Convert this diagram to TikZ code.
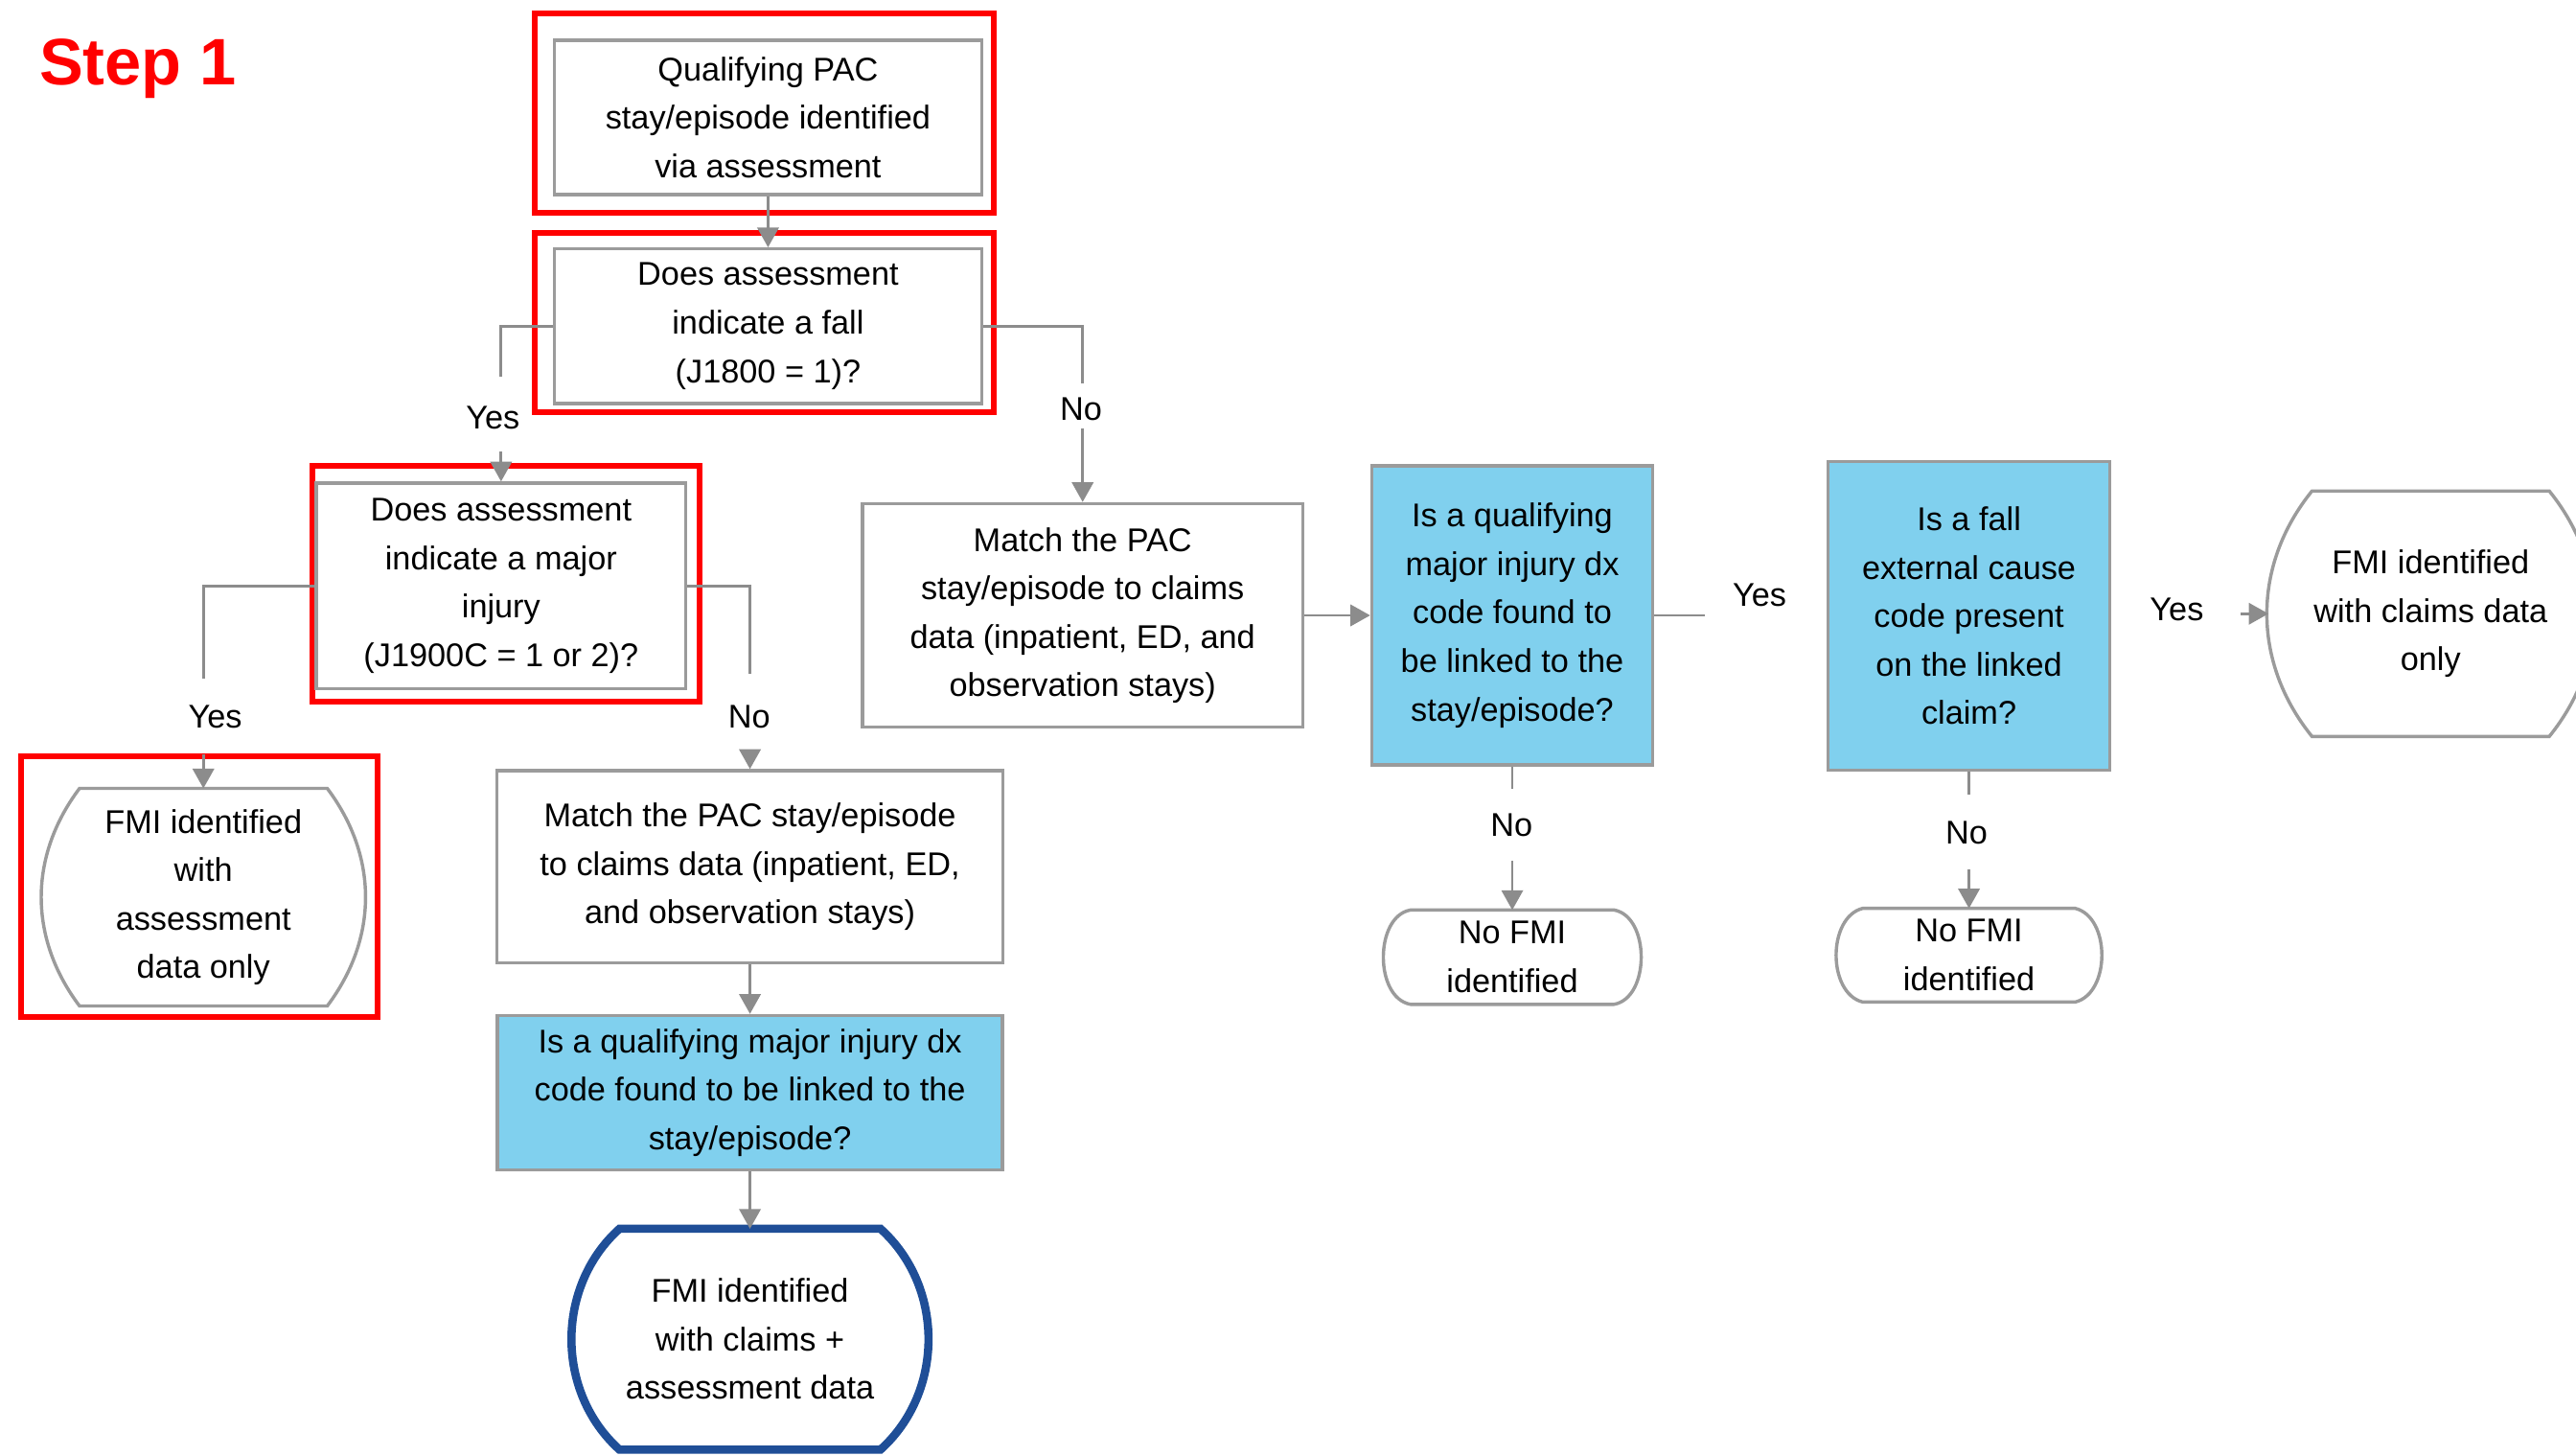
\documentclass[tikz,border=0pt]{standalone}
\usepackage{fontspec}
\setmainfont{Liberation Sans}
\usetikzlibrary{positioning,arrows.meta}
\definecolor{linegray}{RGB}{140,140,140}
\definecolor{boxgray}{RGB}{155,155,155}
\definecolor{dxblue}{RGB}{128,208,238}
\definecolor{endblue}{RGB}{31,78,151}
\definecolor{markred}{RGB}{255,0,0}
% outline of a terminal node: name, bulge of the sides, bend angle, draw options
\newcommand{\drawterm}[4]{\draw[#4] ([xshift=#2pt]#1.north west) to[bend right=#3] ([xshift=#2pt]#1.south west)
  -- ([xshift=-#2pt]#1.south east) to[bend right=#3] ([xshift=-#2pt]#1.north east) -- cycle;}

\begin{document}
\begin{tikzpicture}[x=1pt,y=-1pt,
  every node/.style={font=\fontsize{20}{29.5}\selectfont, inner sep=0pt, align=center},
  box/.style={draw=boxgray, line width=2pt, fill=white},
  dx/.style={box, fill=dxblue},
  termline/.style={draw=boxgray, line width=2pt},
  redframe/.style={draw=markred, line width=3.5pt},
  link/.style={draw=linegray, line width=1.6pt},
  >={Triangle[width=13pt,length=12pt]}]
 \path[use as bounding box, fill=white] (0,0) rectangle (1568,886);
 \clip (0,0) rectangle (1568,886);

 \node[text=markred, font=\bfseries\fontsize{40}{40}\selectfont] (step) at (84,42) {Step 1};

 \node[redframe, minimum width=279.5pt, minimum height=121pt] (pacR) at (465,68.8) {};
 \node[box, minimum width=260pt, minimum height=94pt] (pac) at (467.5,71.5) {Qualifying PAC\\stay/episode identified\\via assessment};
 \node[redframe, minimum width=279.5pt, minimum height=109pt] (fallR) at (465,196.4) {};
 \node[box, minimum width=260pt, minimum height=94pt] (fall) at (467.5,198.5) {Does assessment\\indicate a fall\\(J1800 = 1)?};
 \node[redframe, minimum width=235.6pt, minimum height=143.5pt] (majorR) at (307.8,355.3) {};
 \node[box, minimum width=225pt, minimum height=125pt] (major) at (305,356.5) {Does assessment\\indicate a major\\injury\\(J1900C = 1 or 2)?};
 \node[redframe, minimum width=217pt, minimum height=159pt] (fmiAR) at (121.5,539.5) {};
 \node[minimum width=194.4pt, minimum height=132pt] (fmiA) at (123.8,546) {FMI identified\\with\\assessment\\data only};

 \node[box, minimum width=308pt, minimum height=117pt] (match) at (456.5,527.5) {Match the PAC stay/episode\\to claims data (inpatient, ED,\\and observation stays)};
 \node[dx, minimum width=307.5pt, minimum height=94pt] (dxA) at (456.5,665) {Is a qualifying major injury dx\\code found to be linked to the\\stay/episode?};
 \node[minimum width=218.5pt, minimum height=134pt] (fmiB) at (456.5,815) {FMI identified\\with claims +\\assessment data};

 \node[box, minimum width=268pt, minimum height=136pt] (matchB) at (659,374.5) {Match the PAC\\stay/episode to claims\\data (inpatient, ED, and\\observation stays)};
 \node[dx, minimum width=171pt, minimum height=182pt] (dxB) at (920.5,374.5) {Is a qualifying\\major injury dx\\code found to\\be linked to the\\stay/episode?};
 \node[dx, minimum width=171.4pt, minimum height=188pt] (ext) at (1198.5,374.8) {Is a fall\\external cause\\code present\\on the linked\\claim?};
 \node[minimum width=197pt, minimum height=149pt] (fmiC) at (1479.5,373.5) {FMI identified\\with claims data\\only};
 \node[minimum width=171.5pt, minimum height=57pt] (noA) at (920.5,582.5) {No FMI\\identified};
 \node[minimum width=173pt, minimum height=56.6pt] (noB) at (1198.5,581.3) {No FMI\\identified};

 \drawterm{fmiA}{22}{37}{termline}
 \drawterm{fmiB}{30}{48}{draw=endblue, line width=5pt}
 \drawterm{fmiC}{26.5}{39}{termline}
 \drawterm{noA}{24}{80}{termline}
 \drawterm{noB}{22}{76}{termline}

 \node (fallYes) at (300,254) {Yes};
 \node (fallNo) at (658,249) {No};
 \node (majorYes) at (131,436) {Yes};
 \node (majorNo) at (456,436) {No};
 \node (dxYes) at (1071,362) {Yes};
 \node (extYes) at (1325,371) {Yes};
 \node (dxNo) at (920,502) {No};
 \node (extNo) at (1197,507) {No};

 \coordinate[above=64pt of major.north] (fallYa);
 \coordinate[above=18pt of major.north] (fallYb);
 \coordinate[above=72pt of matchB.north] (fallNa);
 \coordinate[above=45pt of matchB.north] (fallNb);
 \coordinate[above=67pt of fmiA.north] (majorYa);
 \coordinate[above=21pt of fmiA.north] (majorYb);
 \coordinate[above=58pt of match.north] (majorNa);
 \coordinate[above=11pt of match.north] (majorNb);
 \coordinate[right=31pt of dxB.east] (dxYa);
 \coordinate[left=17pt of fmiC.west] (extYb);
 \coordinate[above=74pt of noA.north] (dxNa);
 \coordinate[above=30pt of noA.north] (dxNb);
 \coordinate[above=69pt of noB.north] (extNa);
 \coordinate[above=24pt of noB.north] (extNb);

 \path[link] (fall.west) -| (fallYa) (fall.east) -| (fallNa)
  (major.west) -| (majorYa) (major.east) -| (majorNa)
  (dxB.east) -- (dxYa) (dxB.south) -- (dxNa) (ext.south) -- (extNa);
 \path[every edge/.style={link,->}]
  (pac) edge (fall)
  (fallYb) edge (major)
  (fallNb) edge (matchB)
  (majorYb) edge (fmiA)
  (majorNb) edge (match)
  (match) edge (dxA)
  (dxA) edge (fmiB)
  (matchB) edge (dxB)
  (extYb) edge (fmiC)
  (dxNb) edge (noA)
  (extNb) edge (noB);
\end{tikzpicture}
\end{document}
